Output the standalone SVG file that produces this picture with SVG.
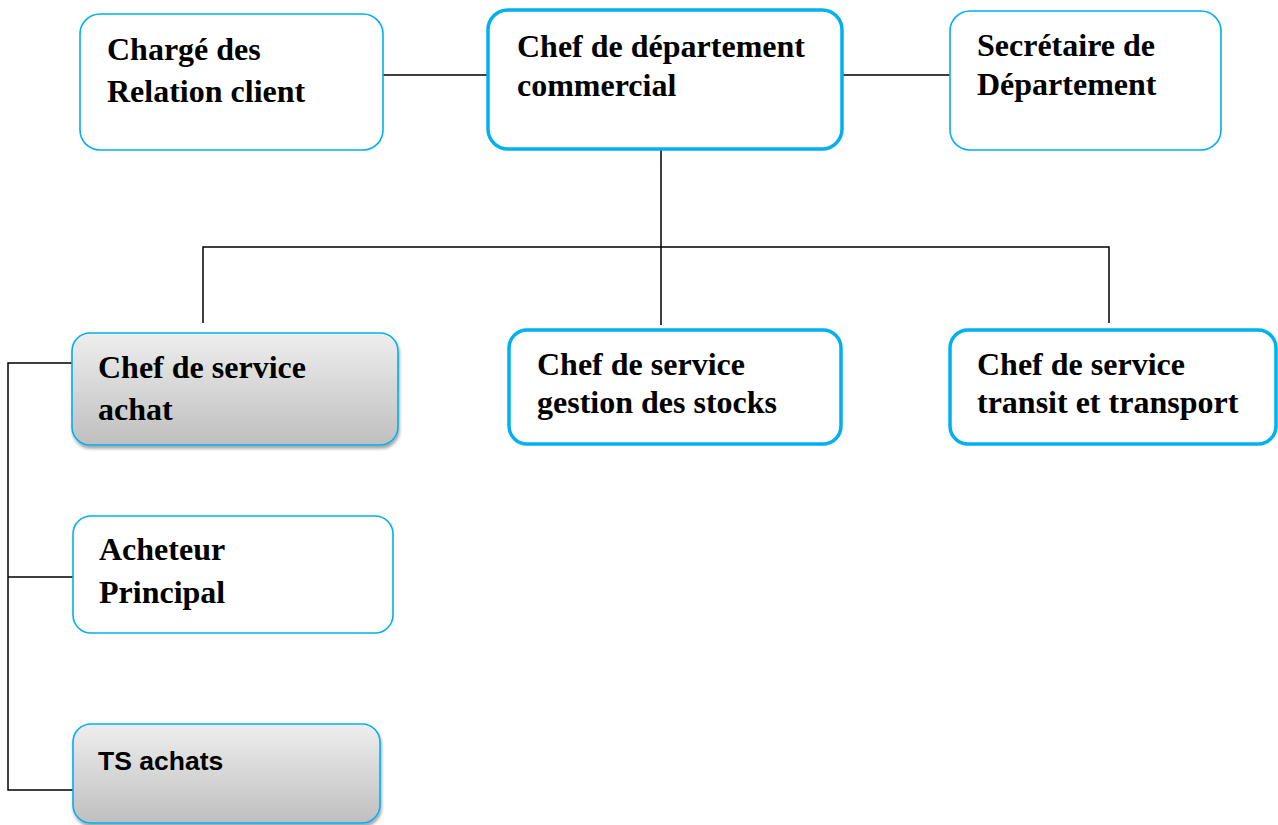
<svg xmlns="http://www.w3.org/2000/svg" width="1278" height="825" viewBox="0 0 1278 825">
<style>
.box{fill:#fff;stroke:#00b0f0;stroke-width:1.6}
.thick{fill:#fff;stroke:#00b0f0;stroke-width:3.5}
.gray{fill:url(#g);stroke:#00b0f0;stroke-width:1.6}
.t{font-family:"Liberation Serif","Times New Roman",serif;font-weight:bold;font-size:32px;fill:#000}
.s{font-family:"Liberation Sans",Arial,sans-serif;font-weight:bold;font-size:26.5px;fill:#000}
.ln{stroke:#000;stroke-width:1.5;fill:none}
</style>
<defs>
<linearGradient id="g" x1="0" y1="0" x2="0" y2="1">
<stop offset="0" stop-color="#eeeeee"/>
<stop offset="1" stop-color="#bfbfbf"/>
</linearGradient>
<filter id="sh" x="-5%" y="-5%" width="115%" height="125%">
<feDropShadow dx="1" dy="3" stdDeviation="1.5" flood-color="#000" flood-opacity="0.35"/>
</filter>
</defs>
<rect width="1278" height="825" fill="#fff"/>
<g id="connectors">
<path class="ln" d="M383 75H488M842 75H950"/>
<path class="ln" d="M661 150V325"/>
<path class="ln" d="M203 323V247H1109V323"/>
<path class="ln" d="M72 363H8V790H73M8 577H73"/>
</g>
<g id="n1">
<rect class="box" x="80" y="14" width="303" height="136" rx="20"/>
<text class="t" x="107" y="60">Chargé des</text>
<text class="t" x="107" y="102">Relation client</text>
</g>
<g id="n2">
<rect class="thick" x="488" y="10" width="354" height="139" rx="20"/>
<text class="t" x="517" y="57">Chef de département</text>
<text class="t" x="517" y="96">commercial</text>
</g>
<g id="n3">
<rect class="box" x="950" y="11" width="271" height="139" rx="20"/>
<text class="t" x="977" y="56">Secrétaire de</text>
<text class="t" x="977" y="95">Département</text>
</g>
<g id="n4">
<rect class="gray" x="72" y="333" width="326" height="112" rx="18" filter="url(#sh)"/>
<text class="t" x="98" y="378">Chef de service</text>
<text class="t" x="98" y="420">achat</text>
</g>
<g id="n5">
<rect class="thick" x="509" y="330" width="332" height="114" rx="18"/>
<text class="t" x="537" y="375">Chef de service</text>
<text class="t" x="537" y="413">gestion des stocks</text>
</g>
<g id="n6">
<rect class="thick" x="950" y="330" width="326" height="114" rx="18"/>
<text class="t" x="977" y="375">Chef de service</text>
<text class="t" x="977" y="413">transit et transport</text>
</g>
<g id="n7">
<rect class="box" x="73" y="516" width="320" height="117" rx="18"/>
<text class="t" x="99" y="560">Acheteur</text>
<text class="t" x="99" y="603">Principal</text>
</g>
<g id="n8">
<rect class="gray" x="73" y="724" width="307" height="99" rx="18" filter="url(#sh)"/>
<text class="s" x="98" y="770">TS achats</text>
</g>
</svg>
